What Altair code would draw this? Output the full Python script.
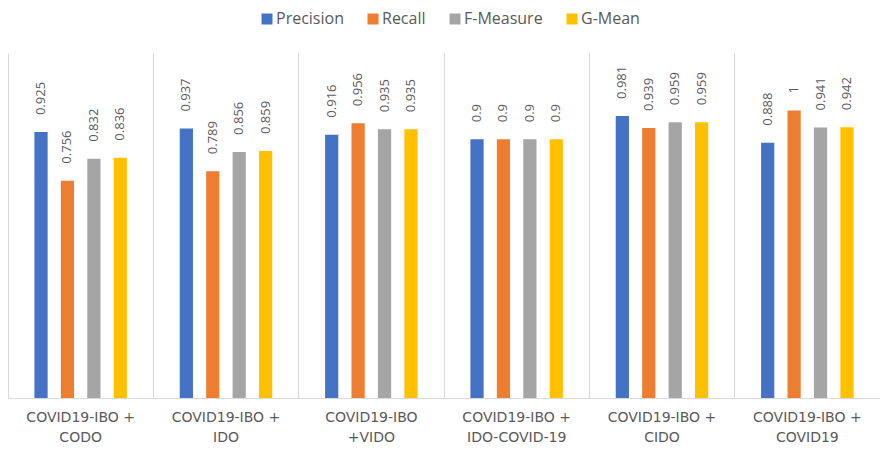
import altair as alt
import pandas as pd

categories = [
    "COVID19-IBO +\nCODO",
    "COVID19-IBO +\nIDO",
    "COVID19-IBO\n+VIDO",
    "COVID19-IBO +\nIDO-COVID-19",
    "COVID19-IBO +\nCIDO",
    "COVID19-IBO +\nCOVID19",
]
series = ["Precision", "Recall", "F-Measure", "G-Mean"]
precision = [0.925, 0.937, 0.916, 0.9, 0.981, 0.888]
recall = [0.756, 0.789, 0.956, 0.9, 0.939, 1]
f_measure = [0.832, 0.856, 0.935, 0.9, 0.959, 0.941]
g_mean = [0.836, 0.859, 0.935, 0.9, 0.959, 0.942]
colors = ["#4472C4", "#ED7D31", "#A5A5A5", "#FFC000"]

rows = []
for i, c in enumerate(categories):
    for s, vals in zip(series, [precision, recall, f_measure, g_mean]):
        rows.append({"category": c, "series": s, "value": vals[i]})
df = pd.DataFrame(rows)

x_scale = alt.Scale(paddingInner=0, paddingOuter=0)
x_enc = alt.X(
    "category:N",
    sort=categories,
    scale=x_scale,
    axis=alt.Axis(
        orient="bottom",
        title=None,
        labelAngle=0,
        labelExpr="split(datum.label, '\\n')",
        grid=True,
        gridColor="#d9d9d9",
        bandPosition=0,
        ticks=False,
        domainColor="#d9d9d9",
        labelFont="DejaVu Sans",
        labelFontSize=14,
        labelColor="#595959",
        labelLineHeight=20,
        labelPadding=12,
    ),
)
x_top = alt.X(
    "category:N",
    sort=categories,
    scale=x_scale,
    axis=alt.Axis(
        orient="top",
        title=None,
        grid=True,
        gridColor="#d9d9d9",
        bandPosition=1,
        labels=False,
        ticks=False,
        domain=False,
    ),
)
xoff = alt.XOffset("series:N", sort=series, scale=alt.Scale(paddingInner=0.5, paddingOuter=1))
y_enc = alt.Y("value:Q", scale=alt.Scale(domain=[0, 1.2], nice=False, zero=True), axis=None)

bars = alt.Chart(df).mark_bar().encode(
    x=x_enc,
    xOffset=xoff,
    y=y_enc,
    color=alt.Color(
        "series:N",
        sort=series,
        scale=alt.Scale(domain=series, range=colors),
        legend=alt.Legend(
            title=None,
            orient="none",
            direction="horizontal",
            legendX=251,
            legendY=-42,
            symbolType="square",
            symbolSize=121,
            symbolStrokeWidth=0,
            labelFont="Open Sans",
            labelFontSize=16,
            labelColor="#595959",
            columnPadding=21,
            labelOffset=1,
        ),
    ),
)

labels = alt.Chart(df).mark_text(
    angle=270, align="left", baseline="middle", dx=17,
    font="Open Sans", fontSize=13, color="#595959",
).encode(
    x=x_top,
    xOffset=xoff,
    y=y_enc,
    text=alt.Text("value:Q", format=".3~f"),
)

chart = alt.layer(bars, labels).resolve_axis(x="independent").properties(
    width=872,
    height=345,
    padding={"left": 0, "top": 3, "right": 0, "bottom": 0},
).configure_view(stroke=None)

chart.save("out.html", embed_options={"renderer": "svg", "actions": False})
